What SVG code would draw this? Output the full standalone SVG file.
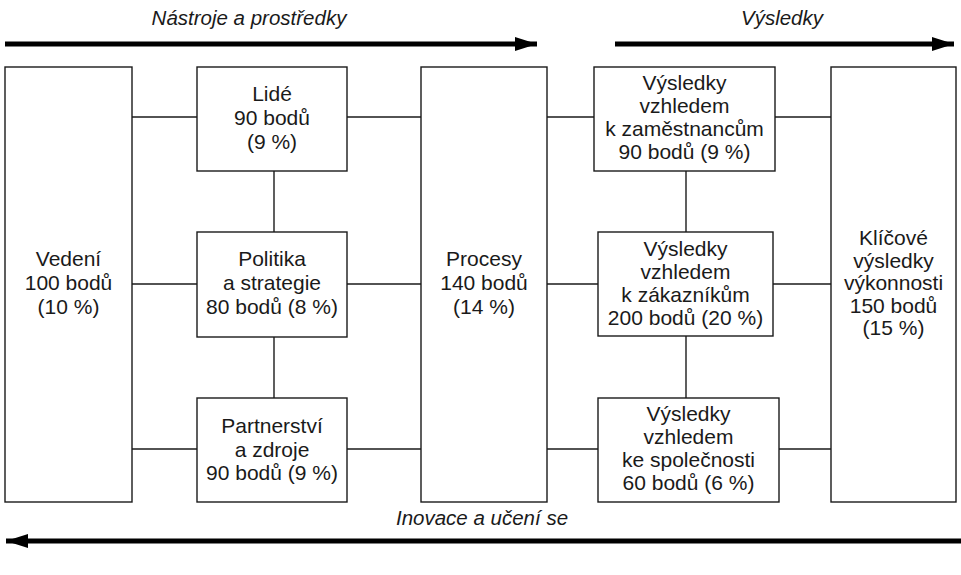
<svg xmlns="http://www.w3.org/2000/svg" width="961" height="575" viewBox="0 0 961 575">
<style>
.box{fill:#fff;stroke:#1a1a1a;stroke-width:1.4}
.t{font-family:"Liberation Sans",Arial,sans-serif;font-size:21px;fill:#1a1a1a;text-anchor:middle}
.lbl{font-family:"Liberation Sans",Arial,sans-serif;font-size:20.5px;font-style:italic;fill:#1a1a1a;text-anchor:middle}
.c{stroke:#1a1a1a;stroke-width:1.4;fill:none}
.big{stroke:#000;stroke-width:5;fill:none}
</style>
<defs>
<marker id="ah" markerUnits="userSpaceOnUse" markerWidth="24" markerHeight="16" refX="22" refY="8" orient="auto">
<path d="M0,1 L22,8 L0,15 Z" fill="#000"/>
</marker>
</defs>
<rect width="961" height="575" fill="#fff"/>
<g id="labels">
<text class="lbl" x="249" y="25">Nástroje a prostředky</text>
<text class="lbl" x="782" y="25">Výsledky</text>
<text class="lbl" x="482" y="525">Inovace a učení se</text>
</g>
<g id="arrows">
<line class="big" x1="5" y1="44" x2="537" y2="44" marker-end="url(#ah)"/>
<line class="big" x1="615" y1="44" x2="954" y2="44" marker-end="url(#ah)"/>
<line class="big" x1="961" y1="541" x2="6" y2="541" marker-end="url(#ah)"/>
</g>
<g id="connectors">
<line class="c" x1="132" y1="117" x2="197" y2="117"/>
<line class="c" x1="347" y1="117" x2="421" y2="117"/>
<line class="c" x1="547" y1="117" x2="594" y2="117"/>
<line class="c" x1="775" y1="117" x2="831" y2="117"/>
<line class="c" x1="132" y1="284" x2="197" y2="284"/>
<line class="c" x1="347" y1="284" x2="421" y2="284"/>
<line class="c" x1="547" y1="284" x2="598" y2="284"/>
<line class="c" x1="773" y1="284" x2="831" y2="284"/>
<line class="c" x1="132" y1="449" x2="197" y2="449"/>
<line class="c" x1="347" y1="449" x2="421" y2="449"/>
<line class="c" x1="547" y1="449" x2="598" y2="449"/>
<line class="c" x1="779" y1="449" x2="831" y2="449"/>
<line class="c" x1="274" y1="171" x2="274" y2="232"/>
<line class="c" x1="274" y1="337" x2="274" y2="398"/>
<line class="c" x1="686" y1="171" x2="686" y2="232"/>
<line class="c" x1="686" y1="336" x2="686" y2="398"/>
</g>
<g id="vedeni">
<rect class="box" x="5" y="67" width="127" height="435"/>
<text class="t" x="68.5" y="266">Vedení</text>
<text class="t" x="68.5" y="290">100 bodů</text>
<text class="t" x="68.5" y="314">(10 %)</text>
</g>
<g id="lide">
<rect class="box" x="197" y="67" width="150" height="104"/>
<text class="t" x="272" y="101">Lidé</text>
<text class="t" x="272" y="125">90 bodů</text>
<text class="t" x="272" y="149">(9 %)</text>
</g>
<g id="politika">
<rect class="box" x="197" y="232" width="150" height="105"/>
<text class="t" x="272" y="266">Politika</text>
<text class="t" x="272" y="290">a strategie</text>
<text class="t" x="272" y="314">80 bodů (8 %)</text>
</g>
<g id="partnerstvi">
<rect class="box" x="197" y="398" width="150" height="104"/>
<text class="t" x="272" y="433">Partnerství</text>
<text class="t" x="272" y="456.5">a zdroje</text>
<text class="t" x="272" y="480">90 bodů (9 %)</text>
</g>
<g id="procesy">
<rect class="box" x="421" y="67" width="126" height="435"/>
<text class="t" x="484" y="266">Procesy</text>
<text class="t" x="484" y="290">140 bodů</text>
<text class="t" x="484" y="314">(14 %)</text>
</g>
<g id="vysledky-zamestnanci">
<rect class="box" x="594" y="67" width="181" height="104"/>
<text class="t" x="684.5" y="90">Výsledky</text>
<text class="t" x="684.5" y="113">vzhledem</text>
<text class="t" x="684.5" y="136">k zaměstnancům</text>
<text class="t" x="684.5" y="159">90 bodů (9 %)</text>
</g>
<g id="vysledky-zakaznici">
<rect class="box" x="598" y="232" width="175" height="104"/>
<text class="t" x="685.5" y="256">Výsledky</text>
<text class="t" x="685.5" y="279">vzhledem</text>
<text class="t" x="685.5" y="302">k zákazníkům</text>
<text class="t" x="685.5" y="325">200 bodů (20 %)</text>
</g>
<g id="vysledky-spolecnost">
<rect class="box" x="598" y="398" width="181" height="104"/>
<text class="t" x="688.5" y="421">Výsledky</text>
<text class="t" x="688.5" y="444">vzhledem</text>
<text class="t" x="688.5" y="467">ke společnosti</text>
<text class="t" x="688.5" y="490">60 bodů (6 %)</text>
</g>
<g id="klicove">
<rect class="box" x="831" y="67" width="125" height="435"/>
<text class="t" x="893.5" y="245">Klíčové</text>
<text class="t" x="893.5" y="267.5">výsledky</text>
<text class="t" x="893.5" y="290">výkonnosti</text>
<text class="t" x="893.5" y="312.5">150 bodů</text>
<text class="t" x="893.5" y="335">(15 %)</text>
</g>
</svg>
